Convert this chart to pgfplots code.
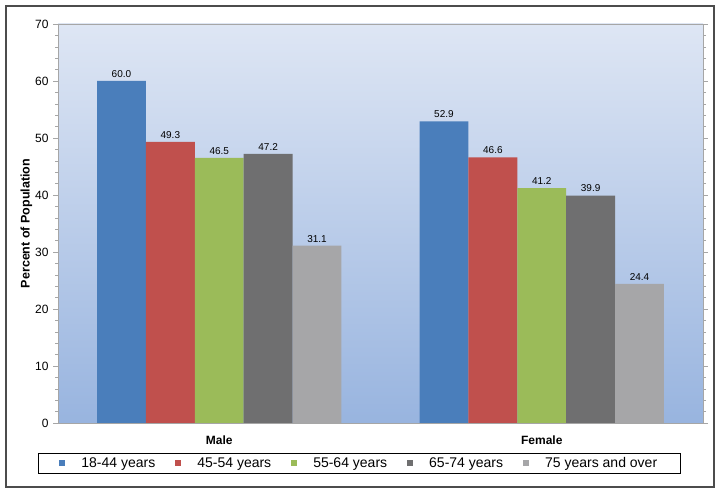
\documentclass[border=0pt]{standalone}
\usepackage{pgfplots}
\pgfplotsset{compat=1.18}
\usepackage{fontspec}
\setmainfont{Liberation Sans}
\definecolor{c1}{HTML}{4A7EBB}
\definecolor{c2}{HTML}{C0504D}
\definecolor{c3}{HTML}{9BBB59}
\definecolor{c4}{HTML}{6F6F70}
\definecolor{c5}{HTML}{A6A6A8}
\definecolor{bgtop}{HTML}{DEE6F4}
\definecolor{bgbot}{HTML}{98B4DF}
\begin{document}
\begin{tikzpicture}[x=1pt,y=1pt]
\begin{axis}[
  scale only axis, width=645pt, height=399pt,
  xmin=-0.5, xmax=1.5, ymin=0, ymax=70,
  /pgf/number format/assume math mode=true,
  ytick={0,10,...,70}, minor y tick num=4,
  xtick={0,1}, xticklabels={\textbf{Male},\textbf{Female}},
  extra x ticks={0.5}, extra x tick labels={},
  extra x tick style={major tick length=5pt, tick style={gray}},
  x tick style={draw=none},
  y tick style={gray!70},
  tick align=outside, major tick length=5pt, minor tick length=3pt,
  axis line style={gray!70},
  axis background/.style={top color=bgtop, bottom color=bgbot},
  ybar=0pt, bar width=0.1516,
  ylabel={\textbf{Percent of Population}},
  ylabel style={font=\fontsize{12.5}{14}\selectfont, yshift=-4pt},
  yticklabel style={font=\fontsize{12}{14}\selectfont, xshift=-1pt},
  xticklabel style={font=\fontsize{12}{14}\selectfont, yshift=-4pt},
  nodes near coords, nodes near coords style={font=\fontsize{10}{12}\selectfont, /pgf/number format/fixed, /pgf/number format/fixed zerofill, /pgf/number format/precision=1, /pgf/number format/assume math mode=true},
  legend columns=5,
  legend style={at={(-0.031,-0.0752)}, anchor=north west, draw=black, line width=0.8pt,
    font=\fontsize{14}{16}\selectfont,
    /tikz/every odd column/.append style={column sep=14pt},
    /tikz/every even column/.append style={column sep=18pt},
    inner xsep=21pt, inner ysep=2pt},
  legend image code/.code={\fill[#1] (0pt,-3pt) rectangle (6pt,3pt);},
]
\addplot[fill=c1, draw=none] coordinates {(0,60.0) (1,52.9)};
\addplot[fill=c2, draw=none] coordinates {(0,49.3) (1,46.6)};
\addplot[fill=c3, draw=none] coordinates {(0,46.5) (1,41.2)};
\addplot[fill=c4, draw=none] coordinates {(0,47.2) (1,39.9)};
\addplot[fill=c5, draw=none] coordinates {(0,31.1) (1,24.4)};
\legend{18-44 years,45-54 years,55-64 years,65-74 years,75 years and over}
\end{axis}
\draw[line width=1.5pt, black!70] ([shift={(-52pt,-64pt)}]current axis.south west) rectangle ([shift={(11pt,18pt)}]current axis.north east);
\path ([shift={(-58pt,-70pt)}]current axis.south west) rectangle ([shift={(18pt,24pt)}]current axis.north east);
\end{tikzpicture}
\end{document}
